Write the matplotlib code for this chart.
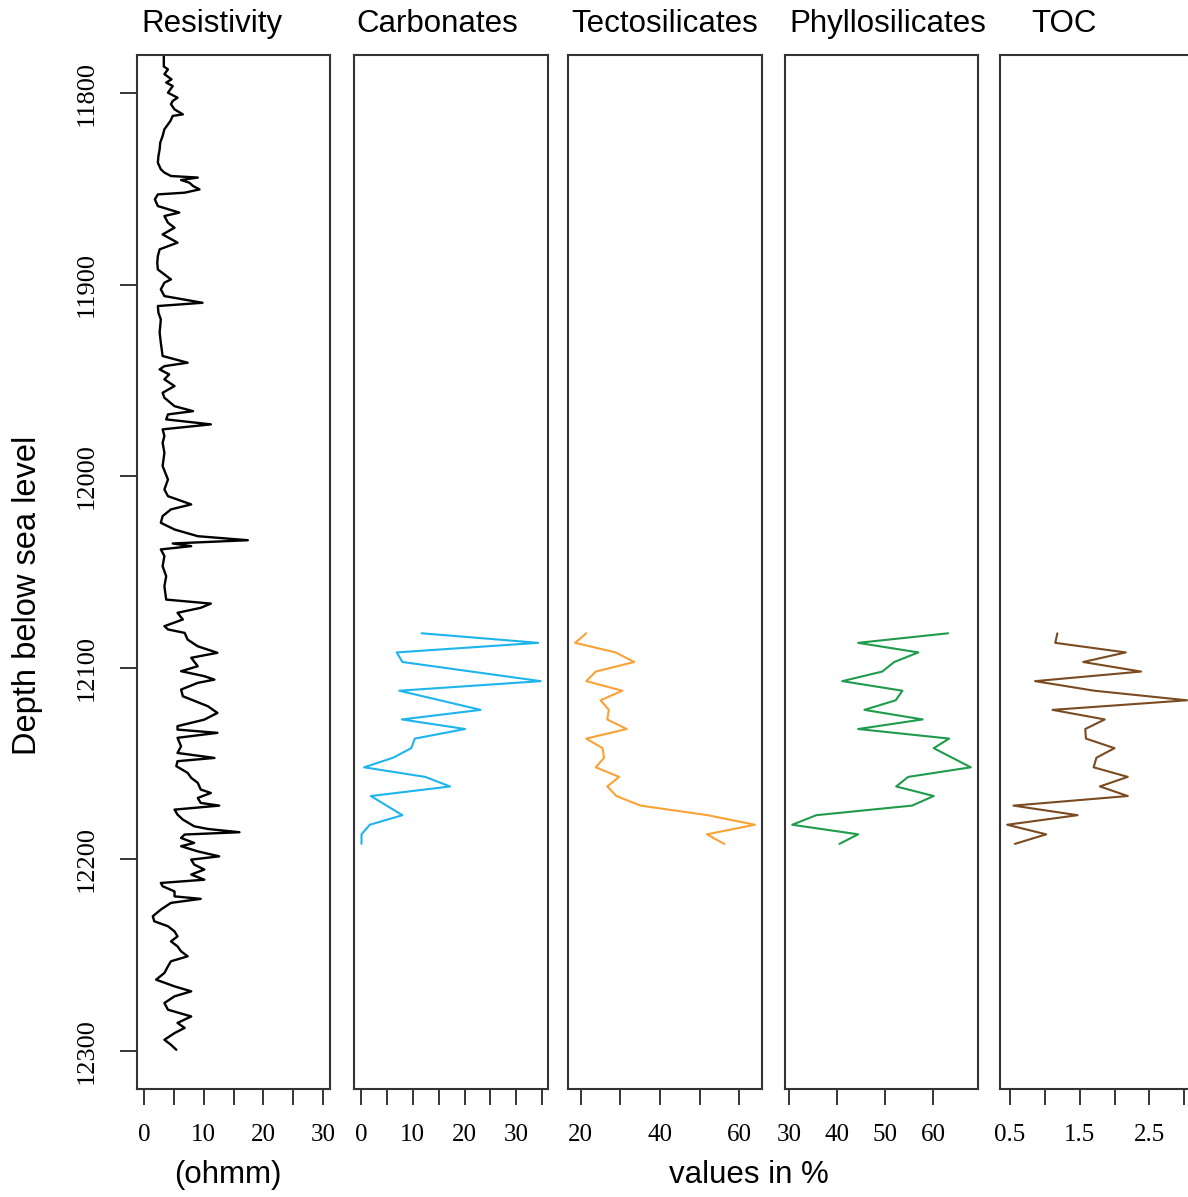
import matplotlib
matplotlib.use("Agg")
import matplotlib.pyplot as plt

# Resistivity log (depth, ohmm)
res_depth = [11779, 11786, 11787.5, 11790, 11792.7, 11794.4, 11796.2, 11799.7, 11802.3, 11804,
             11805.7, 11808.4, 11811, 11811.8, 11814.5, 11816.2, 11818.8, 11822.3, 11825.8, 11829.3,
             11832.7, 11836.2, 11839.7, 11841.4, 11843.2, 11844, 11845.3, 11846.7, 11848.4, 11850.2,
             11851.9, 11852.8, 11855.4, 11858.9, 11862.3, 11864.1, 11867.6, 11870.2, 11873.7, 11878,
             11881.5, 11885, 11888.5, 11892, 11897.2, 11898.9, 11902.4, 11905.9, 11909.4, 11911.1,
             11914.6, 11918.1, 11921.6, 11925, 11930.3, 11937.2, 11940.7, 11942.5, 11944.2, 11946.8,
             11949.4, 11952.9, 11956.4, 11959, 11963.4, 11966, 11967.7, 11970.3, 11972.9, 11975.5,
             11979, 11982.5, 11987.7, 11994.7, 12001.7, 12006.9, 12010.4, 12014.7, 12017.3, 12020.8,
             12024.3, 12027.8, 12031.3, 12033.4, 12035.1, 12036.5, 12038.2, 12041.7, 12047, 12052.2,
             12057.4, 12064.4, 12066.5, 12068.7, 12071.3, 12074.8, 12078.3, 12080, 12081.8, 12085.3,
             12088.8, 12092.2, 12094.8, 12099.2, 12101.8, 12104.4, 12106.2, 12107.9, 12111.4, 12114.9,
             12120.1, 12123.6, 12127.1, 12130.5, 12132.3, 12134, 12136.6, 12141, 12144.5, 12147.1,
             12148.8, 12151.4, 12154.9, 12157.5, 12160.1, 12163.6, 12165.4, 12168, 12170.6, 12172,
             12174.1, 12176.7, 12179.3, 12182.8, 12184.2, 12185.9, 12187.1, 12188.9, 12191.5, 12193.2,
             12195.9, 12198.5, 12200.2, 12202.8, 12205.4, 12208, 12210.7, 12212.4, 12214.1, 12216.8,
             12219.4, 12220.7, 12222.8, 12226.3, 12229.8, 12232.4, 12235, 12237.7, 12240.3, 12242.9,
             12245.5, 12248.1, 12250.7, 12253.3, 12255.9, 12259.4, 12262.9, 12266.4, 12269, 12271.6,
             12275.1, 12278.6, 12282.1, 12285.5, 12288.1, 12290.8, 12294.3, 12296.9, 12299.5]
res_value = [3.3, 3.3, 4.0, 3.4, 4.6, 3.7, 4.8, 4.0, 5.6, 4.8,
             4.5, 5.1, 6.5, 4.8, 4.4, 4.0, 3.4, 3.1, 2.7, 2.6,
             2.4, 2.3, 2.8, 3.4, 4.5, 9.0, 6.2, 7.6, 8.2, 9.3,
             6.8, 2.3, 1.8, 2.3, 5.9, 3.4, 4.0, 5.1, 3.1, 5.6,
             2.6, 2.3, 2.2, 2.3, 4.5, 3.4, 2.8, 3.4, 9.8, 2.3,
             2.4, 2.8, 2.7, 2.6, 2.8, 3.1, 7.3, 3.4, 2.6, 4.2,
             3.4, 5.1, 3.1, 3.4, 5.1, 8.2, 4.0, 3.7, 11.2, 3.1,
             3.4, 3.1, 3.4, 3.1, 4.0, 3.4, 4.0, 7.9, 4.5, 3.1,
             2.8, 5.1, 9.0, 17.4, 4.8, 7.9, 2.8, 3.4, 3.1, 3.7,
             3.4, 3.7, 11.2, 9.5, 5.6, 6.5, 3.4, 4.0, 6.8, 7.3,
             9.0, 12.3, 7.9, 9.0, 6.2, 10.1, 11.8, 9.0, 6.2, 6.5,
             10.7, 12.3, 10.1, 5.6, 5.6, 12.3, 5.6, 6.2, 5.6, 11.8,
             5.6, 5.4, 7.3, 7.9, 9.0, 9.5, 11.2, 9.0, 9.5, 12.6,
             5.1, 5.6, 6.5, 8.4, 10.7, 16.0, 6.8, 6.2, 8.4, 6.2,
             9.0, 12.6, 7.9, 8.4, 10.1, 7.9, 10.1, 2.8, 3.1, 5.1,
             5.1, 9.5, 4.5, 2.8, 1.45, 1.7, 4.0, 5.1, 5.6, 4.5,
             5.6, 6.2, 7.3, 4.5, 4.0, 3.4, 2.0, 5.1, 7.9, 5.1,
             3.4, 4.0, 7.9, 5.6, 6.8, 5.1, 3.4, 4.5, 5.4]

# Core samples (depth, %)
carb_depth = [12082, 12087, 12092, 12097, 12107, 12112, 12122, 12127, 12132, 12137,
              12142, 12147, 12152, 12157, 12162, 12167, 12177, 12182, 12187, 12192]
carb_value = [11.7, 34.2, 6.9, 8.0, 34.7, 7.4, 23.1, 7.9, 20.1, 10.4,
              9.7, 6.2, 0.6, 12.4, 17.2, 1.9, 8.0, 1.7, 0.1, 0.1]

tecto_depth = [12082, 12087, 12092, 12097, 12102, 12107, 12112, 12117, 12122, 12127, 12132, 12137,
               12142, 12147, 12152, 12157, 12162, 12167, 12172, 12177, 12182, 12187, 12192]
tecto_value = [21.4, 18.6, 28.8, 33.5, 23.8, 21.4, 30.5, 25.0, 27.1, 26.7, 31.6, 21.4,
               25.5, 25.9, 23.8, 29.7, 26.7, 29.0, 35.1, 52.0, 63.9, 51.8, 56.2]

phyllo_depth = [12082, 12087, 12092, 12097, 12102, 12107, 12112, 12117, 12122, 12127, 12132,
                12137, 12142, 12152, 12157, 12162, 12167, 12172, 12177, 12182, 12187, 12192]
phyllo_value = [63.1, 44.4, 56.9, 51.9, 49.4, 41.1, 53.6, 52.2, 45.7, 57.8, 44.4,
                63.3, 60.1, 67.8, 54.8, 52.3, 60.1, 55.6, 35.7, 30.7, 44.4, 40.5]

toc_depth = [12082, 12087, 12092, 12097, 12102, 12107, 12112, 12117, 12122, 12127, 12132, 12137,
             12142, 12147, 12152, 12157, 12162, 12167, 12172, 12177, 12182, 12187, 12192]
toc_value = [1.18, 1.15, 2.16, 1.55, 2.38, 0.86, 1.71, 3.04, 1.11, 1.86, 1.58, 1.59,
             2.0, 1.74, 1.70, 2.19, 1.79, 2.19, 0.55, 1.47, 0.46, 1.02, 0.57]

depth_ticks = [11800, 11900, 12000, 12100, 12200, 12300]

W, H = 1188, 1197
fig = plt.figure(figsize=(W / 100, H / 100), dpi=100)

serif = "Liberation Serif"
sans = "Liberation Sans"
box_color = "#333333"

# panel: (left px, right px, data, xlim, ticks, tick labels, color)
panels = [
    (137, 330, res_depth, res_value, (-1.2, 31.2), [0, 5, 10, 15, 20, 25, 30],
     ["0", "", "10", "", "20", "", "30"], "black"),
    (354, 548, carb_depth, carb_value, (-1.35, 36.1), [0, 5, 10, 15, 20, 25, 30, 35],
     ["0", "", "10", "", "20", "", "30", ""], "#1EB4EC"),
    (568, 762, tecto_depth, tecto_value, (16.8, 65.7), [20, 30, 40, 50, 60],
     ["20", "", "40", "", "60"], "#F9A236"),
    (785, 978, phyllo_depth, phyllo_value, (29.2, 69.3), [30, 40, 50, 60],
     ["30", "40", "50", "60"], "#1F9B4C"),
    (1000, 1194, toc_depth, toc_value, (0.357, 3.14), [0.5, 1.0, 1.5, 2.0, 2.5, 3.0],
     ["0.5", "", "1.5", "", "2.5", ""], "#7A4B20"),
]

top_px, bot_px = 55, 1089
for i, (l, r, d, v, xl, xt, xtl, col) in enumerate(panels):
    ax = fig.add_axes([l / W, 1 - bot_px / H, (r - l) / W, (bot_px - top_px) / H])
    ax.plot(v, d, color=col, lw=1.7 if i == 0 else 1.5,
            solid_joinstyle="round", solid_capstyle="round")
    ax.set_xlim(*xl)
    ax.set_ylim(12320, 11780)
    ax.set_xticks(xt)
    ax.set_xticklabels(xtl, fontfamily=serif, fontsize=18)
    ax.tick_params(axis="x", direction="out", length=11.5, width=1.1, pad=14, colors="black")
    for s in ax.spines.values():
        s.set_color(box_color)
        s.set_linewidth(1.5)
    if i == 0:
        ax.set_yticks(depth_ticks)
        ax.set_yticklabels([str(t) for t in depth_ticks], fontfamily=serif, fontsize=19,
                           rotation=90, va="center")
        ax.tick_params(axis="y", direction="out", length=12, width=1.1, pad=16)
    else:
        ax.set_yticks([])

# panel titles
titles = [("Resistivity", 141), ("Carbonates", 356), ("Tectosilicates", 571),
          ("Phyllosilicates", 789), ("TOC", 1031)]
for name, xp in titles:
    fig.text(xp / W, 1 - 32 / H, name, fontfamily=sans, fontsize=22.5,
             ha="left", va="baseline")

fig.text(228 / W, 1 - 1175 / H, "(ohmm)", fontfamily=sans, fontsize=22.5,
         ha="center", va="center")
fig.text(749 / W, 1 - 1175 / H, "values in %", fontfamily=sans, fontsize=22.5,
         ha="center", va="center")
fig.text(28 / W, 1 - 595 / H, "Depth below sea level", fontfamily=sans, fontsize=23.5,
         rotation=90, ha="center", va="center")

fig.savefig("out.png", dpi=100)
